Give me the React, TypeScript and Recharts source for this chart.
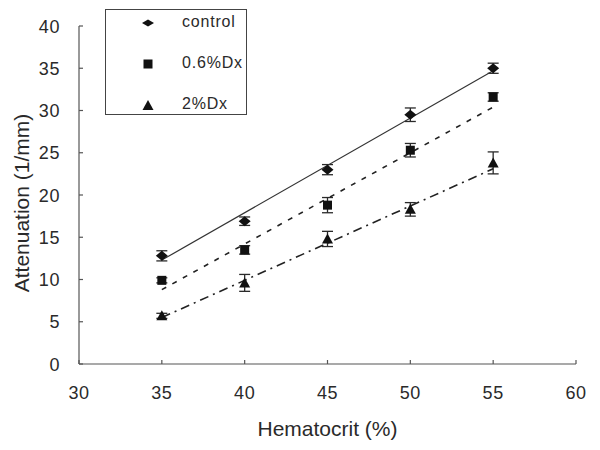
import React from 'react';
import { ScatterChart, Scatter, XAxis, YAxis, ErrorBar, Legend } from 'recharts';

const hematocrit = [35, 40, 45, 50, 55];
const controlMean = [12.8, 16.9, 23.0, 29.5, 35.0];
const controlSd = [0.6, 0.5, 0.6, 0.8, 0.6];
const dx06Mean = [9.9, 13.5, 18.8, 25.3, 31.6];
const dx06Sd = [0.3, 0.5, 0.9, 0.8, 0.5];
const dx2Mean = [5.7, 9.6, 14.8, 18.3, 23.8];
const dx2Sd = [0.3, 1.0, 0.9, 0.8, 1.3];

const trendX = [35, 55];
const controlTrend = [12.3, 34.7];
const dx06Trend = [8.8, 30.4];
const dx2Trend = [5.5, 23.1];

const xTicks = [30, 35, 40, 45, 50, 55, 60];
const yTicks = [0, 5, 10, 15, 20, 25, 30, 35, 40];
const seriesNames = ['control', '0.6%Dx', '2%Dx'];

const FONT = '"Liberation Sans", Arial, sans-serif';
const INK = '#2a2a2a';
const AXIS = '#555';

const mk = (means: number[], sds: number[]) =>
  hematocrit.map((h, i) => ({ x: h, y: means[i], err: sds[i] }));
const mkTrend = (vals: number[]) => trendX.map((x, i) => ({ x, y: vals[i] }));

const controlData = mk(controlMean, controlSd);
const dx06Data = mk(dx06Mean, dx06Sd);
const dx2Data = mk(dx2Mean, dx2Sd);

const Diamond = ({ cx, cy }: any) => (
  <polygon points={`${cx},${cy - 5} ${cx + 6},${cy} ${cx},${cy + 5} ${cx - 6},${cy}`} fill="#111" />
);
const Square = ({ cx, cy }: any) => <rect x={cx - 4.5} y={cy - 4.5} width={9} height={9} fill="#111" />;
const Triangle = ({ cx, cy }: any) => (
  <polygon points={`${cx},${cy - 5.5} ${cx + 5.5},${cy + 4.5} ${cx - 5.5},${cy + 4.5}`} fill="#111" />
);
const Empty = () => <g />;

const XTick = ({ x, y, payload }: any) => (
  <g>
    <line x1={x} y1={y} x2={x} y2={y - 4} stroke={AXIS} strokeWidth={1.2} />
    <text x={x} y={y + 35} textAnchor="middle" fontSize={18} fill={INK} fontFamily={FONT} letterSpacing={0.6}>
      {payload.value}
    </text>
  </g>
);
const YTick = ({ x, y, payload }: any) => (
  <g>
    <line x1={x} y1={y} x2={x + 4} y2={y} stroke={AXIS} strokeWidth={1.2} />
    <text x={x - 19} y={y + 6.5} textAnchor="end" fontSize={18} fill={INK} fontFamily={FONT} letterSpacing={0.6}>
      {payload.value}
    </text>
  </g>
);

const YLabel = ({ viewBox }: any) => {
  const cx = viewBox.x + 21;
  const cy = viewBox.y + viewBox.height / 2 + 8;
  return (
    <text
      x={cx}
      y={cy}
      transform={`rotate(-90 ${cx} ${cy})`}
      textAnchor="middle"
      dominantBaseline="central"
      fontSize={21}
      fill={INK}
      fontFamily={FONT}
    >
      Attenuation (1/mm)
    </text>
  );
};

const legendShapes = [
  <svg width={14} height={12}><polygon points="7,2.5 13,6 7,9.5 1,6" fill="#111" /></svg>,
  <svg width={14} height={12}><rect x={2.5} y={1.5} width={9} height={9} fill="#111" /></svg>,
  <svg width={14} height={12}><polygon points="7,1 12.5,11 1.5,11" fill="#111" /></svg>,
];

const LegendBox = () => (
  <div
    style={{
      border: '1.5px solid #444',
      width: 142,
      height: 106,
      boxSizing: 'border-box',
      fontFamily: FONT,
      fontSize: 16,
      color: INK,
      position: 'relative',
      background: '#fff',
    }}
  >
    {seriesNames.map((n, i) => (
      <div key={n} style={{ position: 'absolute', top: 2 + i * 41, left: 0, height: 20, width: 142 }}>
        <div style={{ position: 'absolute', left: 35, top: 3 }}>{legendShapes[i]}</div>
        <div style={{ position: 'absolute', left: 76, top: 0, letterSpacing: 0.8, lineHeight: '20px' }}>{n}</div>
      </div>
    ))}
  </div>
);

export default function App() {
  return (
    <div style={{ position: 'absolute', left: 0, top: 0, background: '#fff' }}>
      <ScatterChart width={600} height={450} margin={{ top: 26, right: 24, left: 0, bottom: 0 }}>
        <XAxis
          type="number"
          dataKey="x"
          domain={[30, 60]}
          ticks={xTicks}
          height={86}
          tickSize={0}
          tickMargin={0}
          tickLine={false}
          stroke={AXIS}
          strokeWidth={1.2}
          tick={<XTick />}
          interval={0}
          label={{ value: 'Hematocrit (%)', position: 'insideBottom', offset: 14, fontSize: 21, fill: INK, fontFamily: FONT }}
        />
        <YAxis
          type="number"
          dataKey="y"
          domain={[0, 40]}
          ticks={yTicks}
          width={79}
          tickSize={0}
          tickMargin={0}
          tickLine={false}
          stroke={AXIS}
          strokeWidth={1.2}
          tick={<YTick />}
          interval={0}
          label={<YLabel />}
        />
        <Legend
          layout="vertical"
          align="center"
          verticalAlign="middle"
          wrapperStyle={{ position: 'absolute', left: 105, top: 9, width: 144, height: 108 }}
          content={() => <LegendBox />}
        />
        <Scatter data={mkTrend(controlTrend)} shape={Empty} line={{ stroke: '#333', strokeWidth: 1.2 }} legendType="none" isAnimationActive={false} />
        <Scatter data={mkTrend(dx06Trend)} shape={Empty} line={{ stroke: '#222', strokeWidth: 1.6, strokeDasharray: '5 7' }} legendType="none" isAnimationActive={false} />
        <Scatter data={mkTrend(dx2Trend)} shape={Empty} line={{ stroke: '#222', strokeWidth: 1.6, strokeDasharray: '9 5 2 5' }} legendType="none" isAnimationActive={false} />
        <Scatter name="control" data={controlData} shape={Diamond} isAnimationActive={false}>
          <ErrorBar dataKey="err" direction="y" width={5.5} stroke={INK} strokeWidth={1.3} />
        </Scatter>
        <Scatter name="0.6%Dx" data={dx06Data} shape={Square} isAnimationActive={false}>
          <ErrorBar dataKey="err" direction="y" width={5.5} stroke={INK} strokeWidth={1.3} />
        </Scatter>
        <Scatter name="2%Dx" data={dx2Data} shape={Triangle} isAnimationActive={false}>
          <ErrorBar dataKey="err" direction="y" width={5.5} stroke={INK} strokeWidth={1.3} />
        </Scatter>
      </ScatterChart>
    </div>
  );
}
